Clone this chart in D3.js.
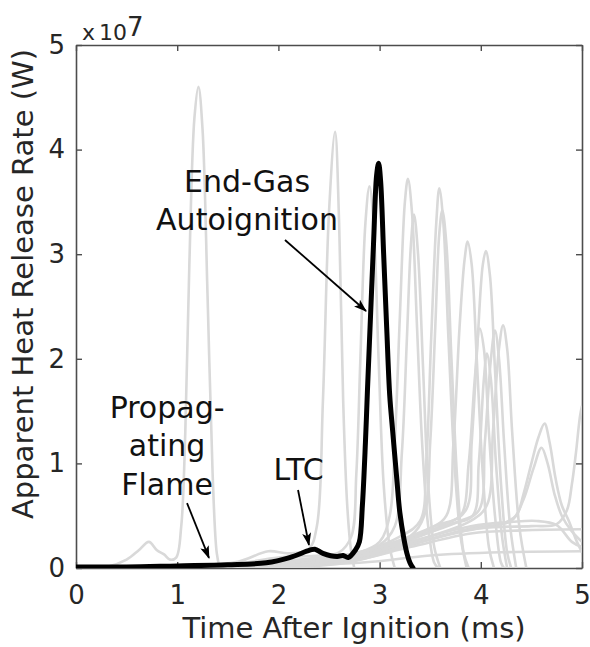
<!DOCTYPE html>
<html>
<head>
<meta charset="utf-8">
<script src="https://cdn.jsdelivr.net/npm/d3@7"></script>
<style>
  body { margin: 0; background: #fff; }
  svg { display: block; font-family: "DejaVu Sans", Verdana, sans-serif; }
</style>
</head>
<body>
<div id="chart"></div>
<script>
// tick values (x in ms, y in units of 1e7 W)
const xTicks = [0, 1, 2, 3, 4, 5];
const yTicks = [0, 1, 2, 3, 4, 5];

// highlighted cycle [time (ms), heat release (x1e7 W)]
const blackCycle = [[0, 0.01], [0.5, 0.01], [1.0, 0.02], [1.5, 0.03], [1.88, 0.05], [2.11, 0.1],
  [2.31, 0.17], [2.36, 0.18], [2.44, 0.14], [2.58, 0.11], [2.64, 0.12], [2.69, 0.1], [2.76, 0.17],
  [2.8, 0.25], [2.83, 0.6], [2.86, 1.2], [2.88, 1.7], [2.91, 2.4], [2.94, 3.1], [2.97, 3.75],
  [2.99, 3.87], [3.01, 3.7], [3.04, 3.0], [3.07, 2.3], [3.1, 1.65], [3.13, 1.3], [3.17, 0.85],
  [3.2, 0.53], [3.24, 0.28], [3.27, 0.14], [3.3, 0.05], [3.33, 0.0]];

// other cycles, drawn in light gray
const gray01 = [[0, 0], [0.3, 0.01], [0.5, 0.08], [0.62, 0.17], [0.72, 0.25], [0.8, 0.17], [0.87, 0.13],
  [0.93, 0.08], [0.99, 0.1], [1.04, 0.4], [1.08, 1.3], [1.12, 2.9], [1.17, 4.3], [1.21, 4.6],
  [1.25, 4.2], [1.3, 2.6], [1.35, 0.9], [1.39, 0.15], [1.42, 0]];
const gray02 = [[0, 0], [1.0, 0.02], [1.6, 0.06], [1.9, 0.16], [2.1, 0.14], [2.3, 0.18], [2.38, 0.4],
  [2.44, 1.6], [2.5, 3.4], [2.56, 4.17], [2.6, 3.3], [2.64, 1.6], [2.68, 0.6], [2.72, 0.15], [2.75, 0]];
const gray03 = [[0, 0], [1.5, 0.03], [2.0, 0.1], [2.4, 0.12], [2.6, 0.15], [2.72, 0.3], [2.77, 0.9],
  [2.81, 2.0], [2.86, 3.3], [2.9, 3.65], [2.94, 3.3], [2.99, 2.0], [3.04, 0.8], [3.1, 0.2], [3.15, 0]];
const gray04 = [[0, 0], [1.8, 0.05], [2.4, 0.1], [2.8, 0.15], [3.0, 0.25], [3.1, 0.5], [3.15, 1.2],
  [3.2, 2.4], [3.25, 3.5], [3.28, 3.72], [3.32, 3.4], [3.37, 2.3], [3.42, 1.2], [3.48, 0.4], [3.54, 0.05], [3.58, 0]];
const gray05 = [[0, 0], [1.9, 0.04], [2.6, 0.1], [3.0, 0.22], [3.15, 0.4], [3.22, 1.1], [3.27, 2.2],
  [3.31, 3.1], [3.34, 3.38], [3.38, 3.0], [3.43, 1.9], [3.48, 0.8], [3.54, 0.2], [3.6, 0]];
const gray06 = [[0, 0], [2.0, 0.05], [2.8, 0.15], [3.2, 0.3], [3.4, 0.45], [3.46, 1.0], [3.51, 2.2],
  [3.56, 3.3], [3.59, 3.63], [3.63, 3.3], [3.68, 2.2], [3.74, 1.0], [3.8, 0.3], [3.86, 0]];
const gray07 = [[0, 0], [2.0, 0.04], [2.8, 0.12], [3.3, 0.3], [3.44, 0.5], [3.5, 1.2], [3.55, 2.3],
  [3.59, 3.2], [3.62, 3.42], [3.66, 3.1], [3.71, 2.0], [3.77, 0.8], [3.83, 0.15], [3.88, 0]];
const gray08 = [[0, 0], [2.2, 0.05], [3.0, 0.2], [3.5, 0.38], [3.66, 0.5], [3.73, 1.2], [3.79, 2.3],
  [3.84, 2.95], [3.87, 3.12], [3.91, 2.9], [3.96, 2.0], [4.02, 0.9], [4.08, 0.2], [4.13, 0]];
const gray09 = [[0, 0], [2.2, 0.04], [3.0, 0.18], [3.6, 0.4], [3.85, 0.55], [3.91, 1.2], [3.97, 2.2],
  [4.02, 2.9], [4.05, 3.03], [4.09, 2.8], [4.14, 1.9], [4.2, 0.8], [4.26, 0.15], [4.3, 0]];
const gray10 = [[0, 0], [2.3, 0.05], [3.0, 0.2], [3.6, 0.42], [3.8, 0.5], [3.88, 1.0], [3.94, 1.8],
  [3.99, 2.29], [4.03, 2.1], [4.08, 1.3], [4.14, 0.5], [4.2, 0.05], [4.23, 0]];
const gray11 = [[0, 0], [2.4, 0.05], [3.2, 0.25], [3.8, 0.45], [3.98, 0.55], [4.04, 1.2], [4.1, 2.0],
  [4.14, 2.27], [4.18, 2.0], [4.23, 1.2], [4.29, 0.4], [4.35, 0]];
const gray12 = [[0, 0], [2.4, 0.04], [3.2, 0.22], [3.9, 0.45], [4.06, 0.6], [4.12, 1.3], [4.18, 2.1],
  [4.22, 2.32], [4.26, 2.1], [4.31, 1.3], [4.38, 0.4], [4.45, 0]];
const gray13 = [[0, 0], [2.3, 0.04], [3.1, 0.2], [3.7, 0.42], [3.92, 0.5], [3.98, 1.0], [4.03, 1.8],
  [4.06, 2.05], [4.1, 1.8], [4.15, 1.0], [4.21, 0.3], [4.26, 0]];
const gray14 = [[0, 0], [2.5, 0.04], [3.2, 0.2], [3.8, 0.35], [4.2, 0.42], [4.35, 0.5], [4.42, 0.7],
  [4.5, 1.0], [4.57, 1.25], [4.63, 1.38], [4.68, 1.2], [4.74, 0.85], [4.8, 0.6], [4.87, 0.45], [4.95, 0.25], [5.0, 0.15]];
const gray15 = [[0, 0], [2.5, 0.04], [3.3, 0.22], [3.9, 0.38], [4.3, 0.45], [4.42, 0.65], [4.52, 0.95],
  [4.6, 1.15], [4.66, 1.0], [4.73, 0.7], [4.8, 0.5], [4.9, 0.35], [5.0, 0.25]];
const gray16 = [[0, 0], [2.6, 0.04], [3.4, 0.25], [4.0, 0.38], [4.5, 0.4], [4.75, 0.42], [4.85, 0.55],
  [4.9, 0.8], [4.94, 1.1], [4.98, 1.45], [5.0, 1.55]];
const gray17 = [[0, 0], [2.6, 0.05], [3.3, 0.2], [3.9, 0.33], [4.4, 0.36], [5.0, 0.37]];
const gray18 = [[0, 0], [2.8, 0.05], [3.5, 0.12], [4.2, 0.15], [5.0, 0.16]];
const gray19 = [[0, 0], [2.5, 0.05], [3.3, 0.25], [3.9, 0.4], [4.3, 0.44], [4.55, 0.45], [4.75, 0.41],
  [4.9, 0.25], [5.0, 0.2]];

const grayCycles = [gray01, gray02, gray03, gray04, gray05, gray06, gray07, gray08, gray09, gray10,
  gray11, gray12, gray13, gray14, gray15, gray16, gray17, gray18, gray19];

// annotations: text lines (center x, baseline y) and arrows (from -> to), all in data units
const labelLines = [
  {text: "End-Gas", x: 1.69, y: 3.595},
  {text: "Autoignition", x: 1.69, y: 3.23},
  {text: "Propag-", x: 0.9, y: 1.434},
  {text: "ating", x: 0.9, y: 1.07},
  {text: "Flame", x: 0.9, y: 0.698},
  {text: "LTC", x: 2.2, y: 0.841}
];
const arrows = [
  {x1: 2.065, y1: 3.136, x2: 2.866, y2: 2.457},
  {x1: 1.097, y1: 0.621, x2: 1.314, y2: 0.096},
  {x1: 2.194, y1: 0.746, x2: 2.302, y2: 0.22}
];

const W = 590, H = 647;
const margin = {top: 45, right: 8, bottom: 79, left: 76};
const width = W - margin.left - margin.right;
const height = H - margin.top - margin.bottom;

const svg = d3.select("#chart").append("svg")
  .attr("width", W)
  .attr("height", H);

const defs = svg.append("defs");
defs.append("clipPath").attr("id", "plotClip")
  .append("rect").attr("width", width).attr("height", height);
defs.append("marker")
  .attr("id", "head")
  .attr("markerUnits", "userSpaceOnUse")
  .attr("viewBox", "0 0 13 9")
  .attr("refX", 12).attr("refY", 4.5)
  .attr("markerWidth", 13).attr("markerHeight", 9)
  .attr("orient", "auto")
  .append("path")
  .attr("d", "M0,0 L13,4.5 L0,9 L3,4.5 Z")
  .attr("fill", "#000");

const g = svg.append("g").attr("transform", `translate(${margin.left},${margin.top})`);

const x = d3.scaleLinear().domain([0, 5]).range([0, width]);
const y = d3.scaleLinear().domain([0, 5]).range([height, 0]);

const axisColor = "#4d4d4d";
const tickColor = "#262626";

// axes first, the data lines sit on top (matlab layer bottom)
const xAxis = g.append("g")
  .attr("transform", `translate(0,${height})`)
  .call(d3.axisBottom(x).tickValues(xTicks).tickFormat(d3.format("d"))
    .tickSize(-6).tickSizeOuter(0).tickPadding(18));
const yAxis = g.append("g")
  .call(d3.axisLeft(y).tickValues(yTicks).tickFormat(d3.format("d"))
    .tickSize(-6).tickSizeOuter(0).tickPadding(11));
const topAxis = g.append("g")
  .call(d3.axisTop(x).tickValues(xTicks).tickSize(-6).tickSizeOuter(0).tickFormat(""));
const rightAxis = g.append("g")
  .attr("transform", `translate(${width},0)`)
  .call(d3.axisRight(y).tickValues(yTicks).tickSize(-6).tickSizeOuter(0).tickFormat(""));

[xAxis, yAxis, topAxis, rightAxis].forEach(a => {
  a.select(".domain").attr("stroke", axisColor).attr("stroke-width", 1.6);
  a.selectAll(".tick line").attr("stroke", axisColor).attr("stroke-width", 1.4);
  a.selectAll(".tick text")
    .attr("fill", tickColor)
    .style("font-size", "26px")
    .style("font-family", '"DejaVu Sans", Verdana, sans-serif');
});

// exponent label above the y axis
const expo = svg.append("text")
  .attr("x", margin.left + 6)
  .attr("y", 40)
  .attr("fill", tickColor)
  .style("font-size", "22px");
expo.append("tspan").text("x");
expo.append("tspan").attr("dx", 4).text("10");
expo.append("tspan").attr("dy", -4).style("font-size", "26px").text("7");

// axis labels
svg.append("text")
  .attr("x", 354)
  .attr("y", 638)
  .attr("text-anchor", "middle")
  .attr("fill", tickColor)
  .style("font-size", "29px")
  .text("Time After Ignition (ms)");

svg.append("text")
  .attr("transform", "translate(33,284) rotate(-90)")
  .attr("text-anchor", "middle")
  .attr("fill", tickColor)
  .style("font-size", "29px")
  .text("Apparent Heat Release Rate (W)");

const line = d3.line()
  .x(d => x(d[0]))
  .y(d => y(d[1]))
  .curve(d3.curveCatmullRom.alpha(0.5));

const plot = g.append("g").attr("clip-path", "url(#plotClip)");

plot.selectAll(".gray")
  .data(grayCycles)
  .join("path")
  .attr("class", "gray")
  .attr("d", line)
  .attr("fill", "none")
  .attr("stroke", "#d9d9d9")
  .attr("stroke-width", 2.6)
  .attr("stroke-linejoin", "round");

plot.append("path")
  .datum(blackCycle)
  .attr("d", line)
  .attr("fill", "none")
  .attr("stroke", "#000")
  .attr("stroke-width", 5)
  .attr("stroke-linejoin", "round")
  .attr("stroke-linecap", "round");

// annotations
g.selectAll(".note")
  .data(labelLines)
  .join("text")
  .attr("class", "note")
  .attr("x", d => x(d.x))
  .attr("y", d => y(d.y))
  .attr("text-anchor", "middle")
  .attr("fill", "#111")
  .style("font-size", "30px")
  .text(d => d.text);

g.selectAll(".arrow")
  .data(arrows)
  .join("line")
  .attr("class", "arrow")
  .attr("x1", d => x(d.x1))
  .attr("y1", d => y(d.y1))
  .attr("x2", d => x(d.x2))
  .attr("y2", d => y(d.y2))
  .attr("stroke", "#000")
  .attr("stroke-width", 1.8)
  .attr("marker-end", "url(#head)");
</script>
</body>
</html>
